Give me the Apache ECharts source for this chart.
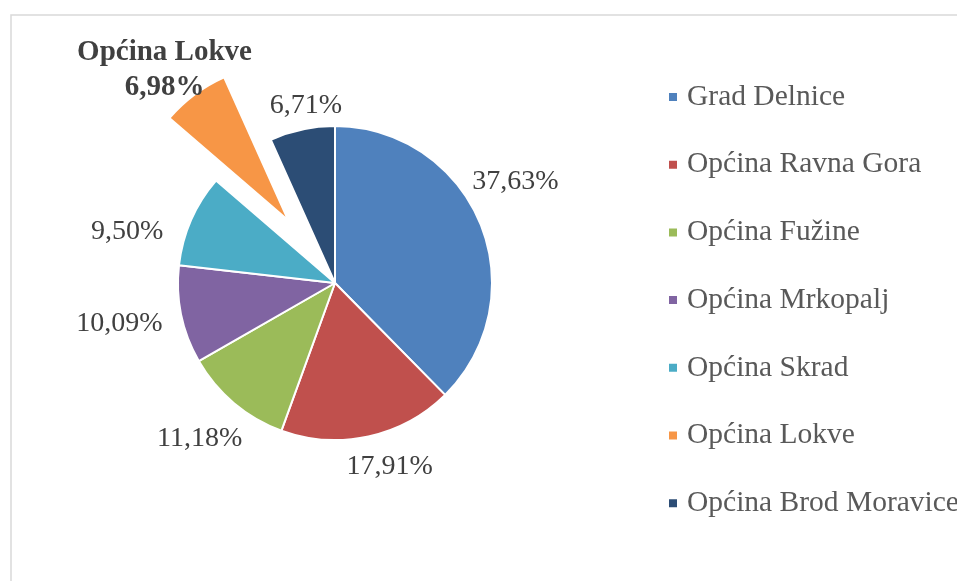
<!DOCTYPE html>
<html>
<head>
<meta charset="utf-8">
<script src="https://cdn.jsdelivr.net/npm/echarts@6/dist/echarts.min.js"></script>
<style>
  html, body { margin: 0; padding: 0; background: #fff; }
  #main { width: 957px; height: 581px; }
</style>
</head>
<body>
<div id="main"></div>
<script>
var names = ['Grad Delnice', 'Općina Ravna Gora', 'Općina Fužine', 'Općina Mrkopalj',
             'Općina Skrad', 'Općina Lokve', 'Općina Brod Moravice'];
var values = [37.63, 17.91, 11.18, 10.09, 9.50, 6.98, 6.71];
var colors = ['#4f81bd', '#c0504d', '#9bbb59', '#8064a2', '#4bacc6', '#f79646', '#2c4d75'];
var explodedName = 'Općina Lokve';

// label nudges (px) to mimic Excel's best-fit placement
var nudgeX = [-32, -35, 28, 6, -4, -11, 53];
var nudgeY = [-36, 16, 24, 6, 18, -13, -9];

var serif = "'Liberation Serif', 'Times New Roman', serif";

function pct(v) {
  return v.toFixed(2).replace('.', ',') + '%';
}

var myChart = echarts.init(document.getElementById('main'));

var pieData = names.map(function (n, i) {
  var item = { name: n, value: values[i], itemStyle: { color: colors[i] } };
  if (n === explodedName) {
    item.selected = true;
    item.label = {
      fontWeight: 'bold',
      fontSize: 29,
      lineHeight: 35,
      formatter: function (p) { return p.name + '\n' + pct(p.value); }
    };
  }
  return item;
});

var option = {
  animation: false,
  backgroundColor: '#fff',
  graphic: [{
    type: 'rect',
    silent: true,
    shape: { x: 11, y: 15, width: 1200, height: 800 },
    style: { fill: 'none', stroke: '#d9d9d9', lineWidth: 1.5 }
  }],
  legend: {
    orient: 'vertical',
    left: 667,
    top: 82,
    padding: 0,
    icon: 'rect',
    itemWidth: 10,
    itemHeight: 10,
    itemGap: 37.7,
    data: names,
    textStyle: {
      color: '#595959', fontFamily: serif, fontSize: 29.5, lineHeight: 30,
      padding: [0, 0, 0, 4]
    }
  },
  series: [{
    type: 'pie',
    center: [335, 283],
    radius: 157,
    startAngle: 90,
    clockwise: true,
    avoidLabelOverlap: false,
    selectedMode: 'single',
    selectedOffset: 78,
    data: pieData,
    itemStyle: { borderColor: '#fff', borderWidth: 2 },
    select: { itemStyle: { borderColor: '#fff', borderWidth: 2 } },
    emphasis: { disabled: true },
    label: {
      show: true,
      position: 'outside',
      color: '#404040',
      fontFamily: serif,
      fontSize: 28,
      formatter: function (p) { return pct(p.value); }
    },
    labelLine: { show: false, length: 15, length2: 5 },
    labelLayout: function (p) {
      var i = p.dataIndex;
      var res = { dx: nudgeX[i], dy: nudgeY[i] };
      if (names[i] === explodedName) res.align = 'center';
      return res;
    }
  }]
};

myChart.setOption(option);
</script>
</body>
</html>
